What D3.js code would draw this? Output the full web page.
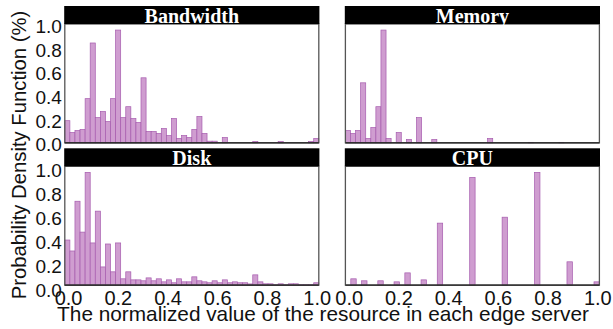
<!DOCTYPE html>
<html><head><meta charset="utf-8">
<script src="https://cdn.jsdelivr.net/npm/d3@7"></script>
<style>body{margin:0;background:#fff}svg{display:block}</style>
</head><body>
<svg id="c" width="613" height="329"></svg>
<script>
// ---------------- data ----------------
const panelTitles = ["Bandwidth", "Memory", "Disk", "CPU"];
const bandwidth = [0.19,0.088,0.105,0.114,0.379,0.857,0.216,0.268,0.182,0.379,
  0.968,0.216,0.31,0.208,0.174,0.558,0.097,0.097,0.08,0.122,
  0.062,0.208,0.037,0.062,0.045,0.114,0.225,0.08,0.014,0.014,
  0,0.045,0,0,0,0,0,0.011,0,0,
  0,0,0.011,0,0,0,0,0,0.011,0.037];
const memory = [0.105,0.08,0.105,0.515,0.037,0.131,0.31,0.968,0.037,0,
  0.088,0,0.028,0,0.216,0,0,0.028,0,0,
  0,0,0,0,0,0,0,0,0.037,0,
  0,0,0,0,0,0,0.004,0,0,0,
  0,0,0.004,0,0,0,0,0,0,0];
const disk = [0.387,0.293,0.72,0.455,0.968,0.362,0.635,0.156,0.353,0.114,
  0.362,0.054,0.114,0.045,0.045,0.037,0.062,0.037,0.054,0.028,
  0.045,0.02,0.054,0.028,0.028,0.071,0.037,0.028,0.02,0.037,
  0.02,0.045,0.02,0.028,0.02,0.02,0.01,0.088,0.028,0.011,
  0.011,0.003,0.011,0.003,0.011,0.011,0.003,0.003,0.003,0.02];
const cpu = [0,0.054,0,0.037,0,0,0.037,0,0,0.028,
  0,0.105,0,0,0.045,0,0,0.532,0,0,
  0,0,0,0.925,0,0,0,0,0,0.583,
  0,0,0,0,0,0.968,0,0,0,0,
  0,0.2,0,0,0,0,0.028];
const series = [bandwidth, memory, disk, cpu];
const xTicks = [0, 0.2, 0.4, 0.6, 0.8, 1.0];
const yTicks = [0, 0.2, 0.4, 0.6, 0.8, 1.0];
const xExtent = [-0.0153, 1.0065];
const yExtent = [0, 1.02];
const yLabel = "Probability Density Function (%)";
const xLabel = "The normalized value of the resource in each edge server";

// ---------------- layout ----------------
const svg = d3.select("#c");
const colLeft = [64.8, 345.4], panelW = 254;
const titleTop = [6, 148.3], titleH = 18, plotH = 118.8;
const fill = "#cf9dd0", edge = "#a65bae";
const sans = "'Liberation Sans',Arial,sans-serif";

series.forEach((vals, i) => {
  const col = i % 2, row = Math.floor(i / 2);
  const x0 = colLeft[col], top = titleTop[row] + titleH, bottom = top + plotH;
  const x = d3.scaleLinear().domain(xExtent).range([x0, x0 + panelW]);
  const y = d3.scaleLinear().domain(yExtent).range([bottom, top]);
  const g = svg.append("g");
  const n = vals.length, bw = (xExtent[1] - xExtent[0]) / n;
  const bins = vals.map((v, k) => ({x0: xExtent[0] + k * bw, x1: xExtent[0] + (k + 1) * bw, v}));

  g.selectAll("rect.bar").data(bins).join("rect").attr("class", "bar")
    .attr("x", d => x(d.x0)).attr("width", d => x(d.x1) - x(d.x0))
    .attr("y", d => y(d.v)).attr("height", d => y(0) - y(d.v))
    .attr("fill", fill).attr("stroke", edge).attr("stroke-width", 0.7);

  // frame
  g.append("rect").attr("x", x0).attr("y", top).attr("width", panelW).attr("height", plotH)
    .attr("fill", "none").attr("stroke", "#555").attr("stroke-width", 1.3);
  g.append("line").attr("x1", x0).attr("x2", x0 + panelW).attr("y1", bottom).attr("y2", bottom)
    .attr("stroke", "#222").attr("stroke-width", 1.3);

  // title bar
  g.append("rect").attr("x", x0 - 0.6).attr("y", titleTop[row]).attr("width", panelW + 1.2).attr("height", titleH)
    .attr("fill", "#000");
  g.append("text").attr("x", x0 + panelW / 2).attr("y", titleTop[row] + titleH - 1)
    .attr("text-anchor", "middle").attr("fill", "#fff")
    .attr("font-family", "'Liberation Serif','DejaVu Serif',serif").attr("font-weight", "bold")
    .attr("font-size", 20).text(panelTitles[i]);

  // y tick labels (left column)
  if (col === 0) {
    const yl = d3.scaleLinear().domain([0, 1]).range(row === 0 ? [144.3, 26.3] : [290.5, 170.5]);
    g.selectAll("text.yt").data(yTicks).join("text").attr("class", "yt")
      .attr("x", x0 - 3).attr("y", d => yl(d)).attr("dy", "0.36em")
      .attr("text-anchor", "end").attr("font-family", sans)
      .attr("font-size", 19).attr("fill", "#111").text(d => d3.format(".1f")(d));
  }
  // x tick labels (bottom row)
  if (row === 1) {
    g.selectAll("text.xt").data(xTicks).join("text").attr("class", "xt")
      .attr("x", d => x(d)).attr("y", 304.5)
      .attr("text-anchor", "middle").attr("font-family", sans)
      .attr("font-size", 20).attr("fill", "#111").text(d => d3.format(".1f")(d));
  }
});

svg.append("text").attr("transform", "translate(25.5,155) rotate(-90)")
  .attr("text-anchor", "middle").attr("font-family", sans)
  .attr("font-size", 20.3).attr("fill", "#111").text(yLabel);
svg.append("text").attr("x", 323).attr("y", 320.5)
  .attr("text-anchor", "middle").attr("font-family", sans)
  .attr("font-size", 20.8).attr("fill", "#111").text(xLabel);
</script>
</body></html>
